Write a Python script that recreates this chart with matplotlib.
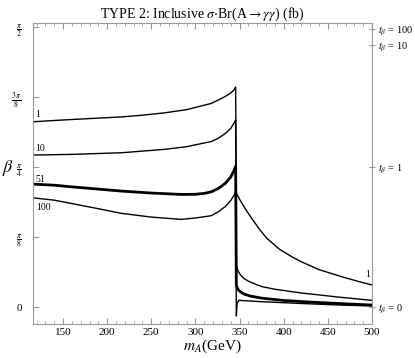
import numpy as np
import matplotlib
matplotlib.use("Agg")
import matplotlib.pyplot as plt

plt.rcParams["font.family"] = ["Liberation Serif", "DejaVu Serif"]
plt.rcParams["mathtext.fontset"] = "stix"

# contour levels (fb) and their traced curves (m_A in GeV, beta in rad)
levels = ["1", "10", "51", "100"]
widths = [1.0, 1.0, 2.0, 1.0]

m_1 = [116, 150, 180, 216, 240, 265, 290, 310, 318, 325, 333, 339, 343, 345.5,
       346.3, 350, 356, 363.5, 372, 380.6, 395, 410, 420, 440, 466, 485, 501]
b_1 = [1.040, 1.050, 1.058, 1.067, 1.077, 1.090, 1.108, 1.133, 1.143, 1.160, 1.180, 1.198, 1.215, 1.235,
       0.640, 0.605, 0.555, 0.499, 0.440, 0.387, 0.325, 0.280, 0.254, 0.210, 0.170, 0.143, 0.123]

m_10 = [116, 160, 216, 265, 290, 307, 318, 326, 334, 340, 344, 345.5,
        346.3, 348, 351, 355, 360, 368, 375, 390, 420, 460, 501]
b_10 = [0.853, 0.857, 0.866, 0.885, 0.900, 0.918, 0.929, 0.948, 0.975, 1.003, 1.035, 1.050,
        0.236, 0.205, 0.180, 0.160, 0.145, 0.128, 0.115, 0.100, 0.079, 0.057, 0.037]

m_51 = [116, 140, 159, 190, 216, 250, 284, 300, 310, 318, 326, 334, 340, 344, 345.5,
        346.3, 348, 351, 355, 362, 375, 400, 430, 470, 501]
b_51 = [0.690, 0.684, 0.675, 0.662, 0.651, 0.640, 0.632, 0.633, 0.638, 0.647, 0.666, 0.695, 0.730, 0.770, 0.790,
        0.123, 0.100, 0.085, 0.073, 0.062, 0.050, 0.037, 0.028, 0.018, 0.011]

m_100 = [116, 140, 159, 190, 216, 250, 284, 300, 310, 318, 326, 334, 340, 344, 345.5,
         346.3, 347.2, 349, 355, 375, 420, 460, 501]
b_100 = [0.613, 0.600, 0.582, 0.552, 0.526, 0.505, 0.492, 0.500, 0.507, 0.513, 0.535, 0.565, 0.598, 0.630, 0.650,
         -0.050, 0.020, 0.038, 0.036, 0.030, 0.020, 0.012, 0.006]

curves = [(m_1, b_1), (m_10, b_10), (m_51, b_51), (m_100, b_100)]

# curve labels
label_m = [119, 119, 119, 120, 492]
label_b = [1.083, 0.892, 0.718, 0.561, 0.180]
label_txt = ["1", "10", "51", "100", "1"]

left_ticks = [0, np.pi / 8, np.pi / 4, 3 * np.pi / 8, np.pi / 2]
left_labels = ["0", r"$\frac{\pi}{8}$", r"$\frac{\pi}{4}$", r"$\frac{3\,\pi}{8}$", r"$\frac{\pi}{2}$"]
tanb_values = [0, 1, 10, 100]

fig = plt.figure(figsize=(4.15, 3.58), dpi=100)
ax = fig.add_axes([0.0795, 0.095, 0.817, 0.8416])

for (m, b), w in zip(curves, widths):
    ax.plot(m, b, color="black", lw=w, solid_joinstyle="round")

for x, y, t in zip(label_m, label_b, label_txt):
    ax.text(x, y, t, fontsize=7, ha="left", va="center")

ax.set_xlim(116, 500)
ax.set_ylim(-0.095, 1.596)

frame = "#999999"
for s in ax.spines.values():
    s.set_color(frame)
    s.set_linewidth(0.8)

ax.set_xticks([150, 200, 250, 300, 350, 400, 450, 500])
ax.set_xticks(np.arange(120, 501, 10), minor=True)
ax.tick_params(axis="x", which="both", direction="in", top=True, color=frame, labelsize=8, pad=3)
ax.tick_params(axis="x", which="major", length=4)
ax.tick_params(axis="x", which="minor", length=2)

ax.set_yticks(left_ticks)
ax.set_yticklabels(left_labels)
ax.tick_params(axis="y", which="both", direction="in", color=frame, labelsize=8, length=4, pad=8)

ax2 = ax.twinx()
ax2.set_ylim(ax.get_ylim())
ax2.set_yticks(np.arctan(tanb_values))
ax2.set_yticklabels([r"$t_\beta$ = %d" % v for v in tanb_values])
ax2.tick_params(axis="y", direction="inout", color=frame, labelsize=7.5, length=4, pad=2)
for s in ax2.spines.values():
    s.set_visible(False)

ax.set_title(r"TYPE 2: Inclusive $\sigma$$\cdot$Br(A$\rightarrow$$\gamma\gamma$) (fb)", fontsize=10, pad=3)
fig.text(212 / 415, 1 - 346 / 358, r"$m_A$(GeV)", fontsize=11, ha="center", va="center")
fig.text(0.02, 0.53, r"$\beta$", fontsize=13, ha="center", va="center")

fig.savefig("out.png", dpi=100)
